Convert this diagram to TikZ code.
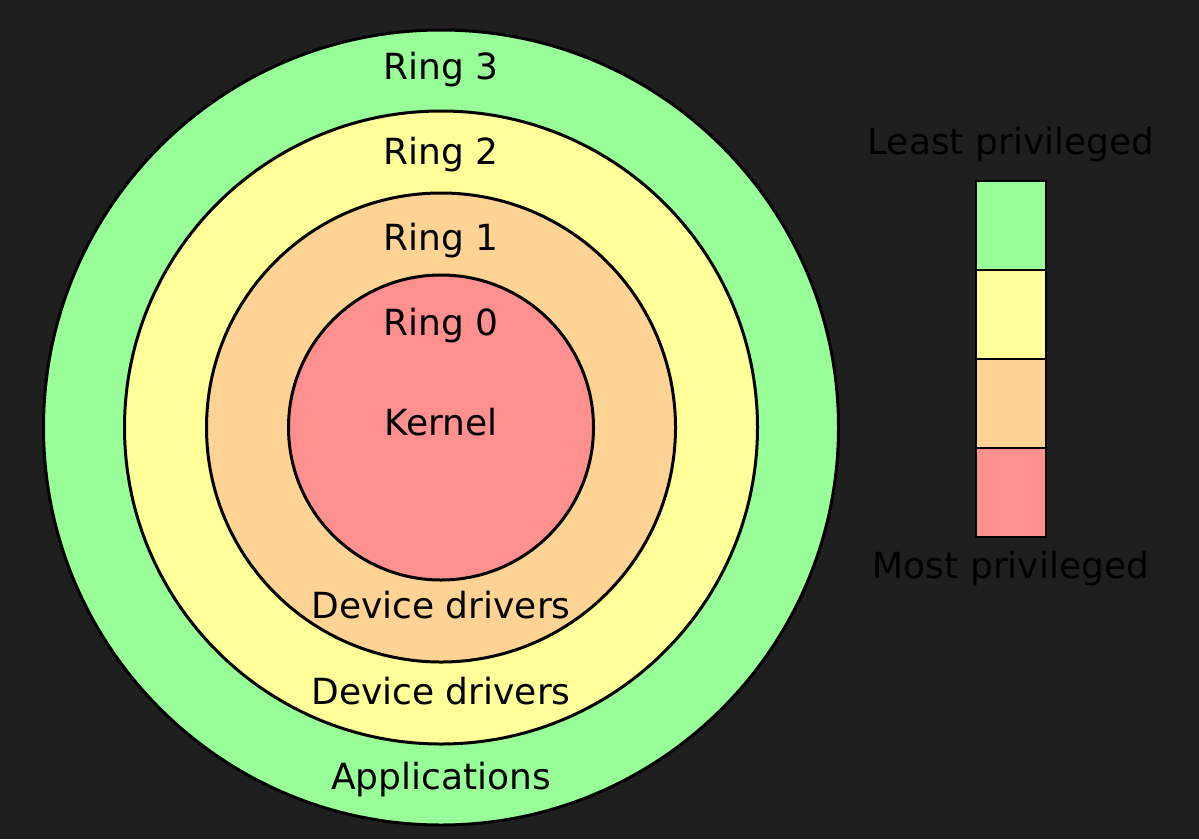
\documentclass[tikz,border=0pt]{standalone}
\usepackage{fontspec}
\setmainfont{DejaVu Sans}
\definecolor{bg}{HTML}{1F1F1F}
\definecolor{cgreen}{HTML}{98FF98}
\definecolor{cyellow}{HTML}{FFFF99}
\definecolor{cpeach}{HTML}{FFD394}
\definecolor{cred}{HTML}{FF9090}
\begin{document}
\begin{tikzpicture}[x=1pt,y=-1pt,
  ring/.style={circle,draw=black,line width=3pt,inner sep=0pt,minimum size=#1},
  lbl/.style={anchor=base,font=\fontsize{36}{43}\selectfont,text=black,inner sep=0pt},
  seg/.style={rectangle,draw=black,line width=2pt,inner sep=0pt,minimum width=70pt,minimum height=89pt}]
\useasboundingbox[fill=bg] (0,0) rectangle (1199,839);
\node[ring=795pt,fill=cgreen] (r3) at (441,427.5) {};
\node[ring=633pt,fill=cyellow] (r2) at (441,427.5) {};
\node[ring=469pt,fill=cpeach] (r1) at (441,427.5) {};
\node[ring=305pt,fill=cred] (r0) at (441,427.5) {};
\node[lbl] (t3) at (441,79) {Ring 3};
\node[lbl] (t2) at (441,164) {Ring 2};
\node[lbl] (t1) at (441,250) {Ring 1};
\node[lbl] (t0) at (441,335) {Ring 0};
\node[lbl] (k) at (441,435.5) {Kernel};
\node[lbl] (d1) at (441,618.5) {Device drivers};
\node[lbl] (d2) at (441,704.5) {Device drivers};
\node[lbl] (ap) at (441,789.5) {Applications};
\node[seg,fill=cgreen] (s3) at (1011,225.5) {};
\node[seg,fill=cyellow] (s2) at (1011,314.5) {};
\node[seg,fill=cpeach] (s1) at (1011,403.5) {};
\node[seg,fill=cred] (s0) at (1011,492.5) {};
\node[lbl] (least) at (1011,154) {Least privileged};
\node[lbl] (most) at (1011,578.5) {Most privileged};
\end{tikzpicture}
\end{document}
